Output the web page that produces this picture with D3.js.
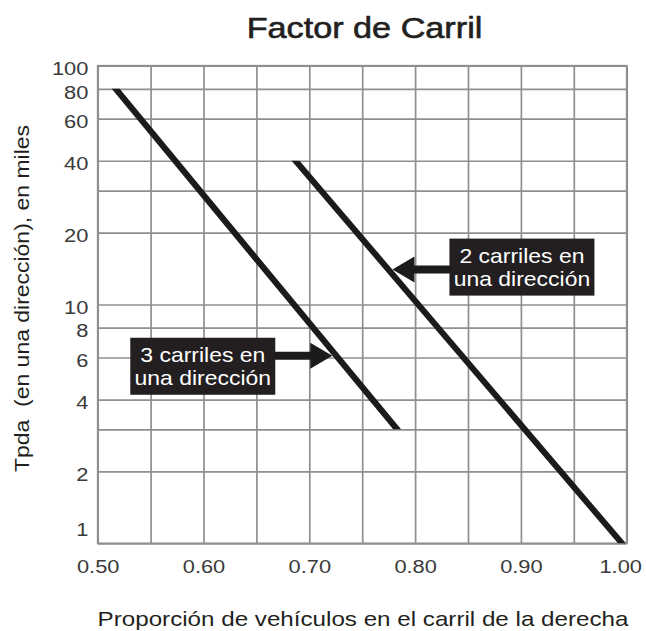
<!DOCTYPE html>
<html>
<head>
<meta charset="utf-8">
<script src="https://cdn.jsdelivr.net/npm/d3@7"></script>
<style>
  html, body { margin: 0; padding: 0; background: #ffffff; }
  svg { display: block; }
  text { font-family: "Liberation Sans", Arial, Helvetica, sans-serif; }
</style>
</head>
<body>
<svg id="chart" width="646" height="631"></svg>
<script>
// ---------- data ----------
const title = "Factor de Carril";
const xTitle = "Proporción de vehículos en el carril de la derecha";
const yTitle = "Tpda  (en una dirección), en miles";

const xGridValues = [0.50, 0.55, 0.60, 0.65, 0.70, 0.75, 0.80, 0.85, 0.90, 0.95, 1.00];
const xTickLabels = [0.50, 0.60, 0.70, 0.80, 0.90, 1.00];
const yGridValues = [1, 2, 3, 4, 6, 8, 10, 20, 30, 40, 60, 80, 100];
const yTickLabels = [1, 2, 4, 6, 8, 10, 20, 40, 60, 80, 100];

// each line: proportion (x) vs Tpda in thousands (y)
const twoLanes = [
  { p: 0.687, v: 40 },
  { p: 0.9955, v: 1 }
];
const threeLanes = [
  { p: 0.517, v: 80 },
  { p: 0.783, v: 3 }
];

const annotations = [
  { lines: ["2 carriles en", "una dirección"], series: twoLanes, at: 14, side: "right" },
  { lines: ["3 carriles en", "una dirección"], series: threeLanes, at: 6.1, side: "left" }
];

// ---------- layout ----------
const svg = d3.select("#chart");
const pLeft = 97.7, pRight = 626.7, pTop = 65.7, pBottom = 543.3;
const stretch = 1.18;           // horizontal glyph stretch seen in the reference
const ink = "#1c1a1b";
const gridColor = "#8f8f91";

const x = d3.scaleLinear().domain([0.5, 1.0]).range([pLeft, pRight]);
const y = d3.scaleLog().domain([1, 100]).range([pBottom, pTop]);

// ---------- grid via axes ----------
const fmtX = d3.format(".2f");
const xAxis = d3.axisBottom(x)
  .tickValues(xGridValues)
  .tickSize(-(pBottom - pTop))
  .tickPadding(17)
  .tickFormat(d => xTickLabels.some(t => Math.abs(t - d) < 1e-9) ? fmtX(d) : "");
const gx = svg.append("g").attr("transform", `translate(0,${pBottom})`).call(xAxis);

const yAxis = d3.axisLeft(y)
  .tickValues(yGridValues)
  .tickSize(-(pRight - pLeft))
  .tickPadding(8)
  .tickFormat(d => yTickLabels.includes(d) ? String(d) : "");
const gy = svg.append("g").attr("transform", `translate(${pLeft},0)`).call(yAxis);

[gx, gy].forEach(g => {
  g.select(".domain").remove();
  g.selectAll(".tick line").attr("stroke", gridColor).attr("stroke-width", 1.7);
  g.selectAll(".tick text")
    .attr("fill", "#3a3a3a")
    .style("font-size", "18.5px")
    .style("font-family", "\"Liberation Sans\", Arial, sans-serif");
});
gx.selectAll(".tick text")
  .attr("x", d => Math.abs(d - 1) < 1e-9 ? -5.5 : 0)
  .attr("transform", `scale(${stretch},1)`);
gy.selectAll(".tick text")
  .attr("dy", d => d === 1 ? "-0.4em" : "0.5em")
  .attr("transform", `scale(${stretch},1)`);

// border
svg.append("rect")
  .attr("x", pLeft).attr("y", pTop)
  .attr("width", pRight - pLeft).attr("height", pBottom - pTop)
  .attr("fill", "none").attr("stroke", gridColor).attr("stroke-width", 1.7);

// ---------- lines ----------
const hw = 4;
const band = d3.area()
  .x0(d => x(d.p) - hw)
  .x1(d => x(d.p) + hw)
  .y(d => y(d.v));
[twoLanes, threeLanes].forEach(s => {
  svg.append("path").attr("d", band(s)).attr("fill", ink);
});

// ---------- annotations ----------
function pointOn(series, v) {
  const a = series[0], b = series[1];
  const ya = y(a.v), yb = y(b.v), yv = y(v);
  const t = (yv - ya) / (yb - ya);
  return [x(a.p) + t * (x(b.p) - x(a.p)), yv];
}

annotations.forEach(an => {
  const [cx, cy] = pointOn(an.series, an.at);
  const dir = an.side === "right" ? 1 : -1;
  const tipX = cx + dir * hw;
  const tipY = cy;
  const headLen = 22, headHalf = 13, shaftHalf = 4;
  const gap = 57, boxW = 145, boxH = 57;
  const g = svg.append("g");

  const p = d3.path();
  p.moveTo(tipX, tipY);
  p.lineTo(tipX + dir * headLen, tipY - headHalf);
  p.lineTo(tipX + dir * headLen, tipY - shaftHalf);
  p.lineTo(tipX + dir * (gap + 2), tipY - shaftHalf);
  p.lineTo(tipX + dir * (gap + 2), tipY + shaftHalf);
  p.lineTo(tipX + dir * headLen, tipY + shaftHalf);
  p.lineTo(tipX + dir * headLen, tipY + headHalf);
  p.closePath();
  g.append("path").attr("d", p.toString()).attr("fill", ink);

  const boxTop = an.side === "right" ? tipY - 31 : tipY - 18;
  const boxLeft = an.side === "right" ? tipX + gap : tipX - gap - boxW;
  g.append("rect")
    .attr("x", boxLeft).attr("y", boxTop)
    .attr("width", boxW).attr("height", boxH)
    .attr("fill", "#231f20");

  an.lines.forEach((ln, i) => {
    g.append("text")
      .attr("transform", `translate(${boxLeft + boxW / 2},${boxTop + 24 + i * 23.5}) scale(1.12,1)`)
      .attr("text-anchor", "middle")
      .attr("fill", "#ffffff")
      .style("font-size", "20.5px")
      .text(ln);
  });
});

// ---------- titles ----------
svg.append("text")
  .attr("transform", `translate(364.5,38) scale(${stretch},1)`)
  .attr("text-anchor", "middle")
  .attr("fill", "#231f20")
  .attr("stroke", "#231f20").attr("stroke-width", 0.6)
  .style("font-size", "29px")
  .text(title);

svg.append("text")
  .attr("transform", `translate(363,626) scale(${stretch},1)`)
  .attr("text-anchor", "middle")
  .attr("fill", "#231f20")
  .style("font-size", "20.5px")
  .text(xTitle);

svg.append("text")
  .attr("transform", "translate(29,298.5) rotate(-90)")
  .attr("text-anchor", "middle")
  .attr("fill", "#231f20")
  .attr("textLength", 347)
  .attr("lengthAdjust", "spacingAndGlyphs")
  .attr("xml:space", "preserve")
  .style("white-space", "pre")
  .style("font-size", "21px")
  .text(yTitle);
</script>
</body>
</html>
